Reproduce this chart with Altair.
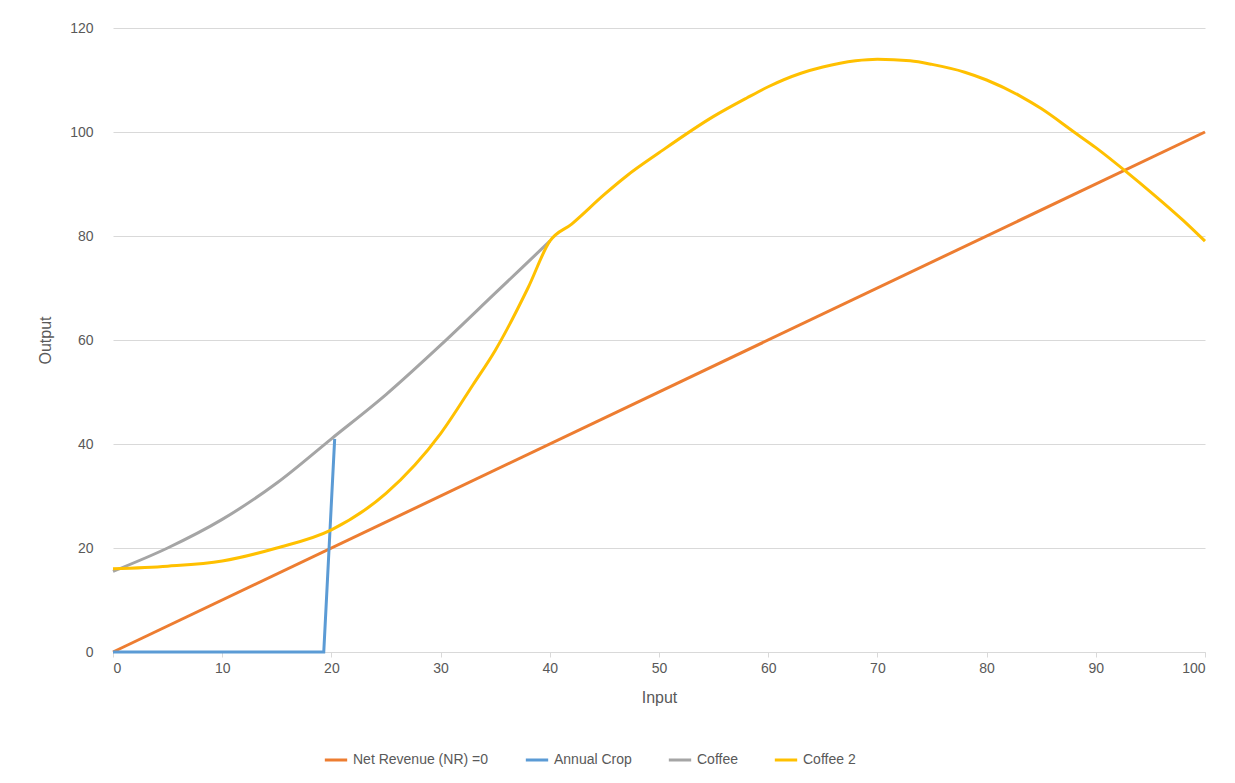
import altair as alt
import pandas as pd

nr_x = [0, 100]
nr_y = [0, 100]

crop_x = [0, 19.3, 20.3]
crop_y = [0, 0, 41]

coffee_x = [0, 5, 10, 15, 20, 25, 30, 35, 40]
coffee_y = [15.5, 20, 25.5, 32.5, 41, 49.5, 59, 69, 79]

coffee2_x = [0, 5, 10, 15, 20, 25, 30, 33, 35, 38, 40, 42, 45, 47, 50, 55, 58, 60, 63, 65, 68, 70,
             73, 75, 78, 80, 83, 85, 88, 90, 93, 95, 98, 100]
coffee2_y = [16, 16.5, 17.5, 20, 23.5, 30.5, 42, 51.5, 58, 70, 79, 82.3, 88, 91.5, 96, 103, 106.5, 108.7,
             111.3, 112.5, 113.7, 114, 113.7, 113, 111.5, 110, 107, 104.5, 100, 97, 92, 88.5, 83, 79]

names = ["Net Revenue (NR) =0", "Annual Crop", "Coffee", "Coffee 2"]
colors = ["#ED7D31", "#5B9BD5", "#A5A5A5", "#FFC000"]

rows = []
for i, (xs, ys) in enumerate([(nr_x, nr_y), (crop_x, crop_y), (coffee_x, coffee_y), (coffee2_x, coffee2_y)]):
    for k, (x, y) in enumerate(zip(xs, ys)):
        rows.append({"series": names[i], "order": i, "k": k, "Input": x, "Output": y})
df = pd.DataFrame(rows)

font = "Liberation Sans"
base = alt.Chart(df).encode(
    x=alt.X("Input:Q", scale=alt.Scale(domain=[0, 100], nice=False),
            axis=alt.Axis(values=list(range(0, 101, 10)), grid=False, domainColor="#D9D9D9",
                          tickColor="#D9D9D9", tickSize=5, labelPadding=4, titlePadding=14)),
    y=alt.Y("Output:Q", scale=alt.Scale(domain=[0, 120], nice=False),
            axis=alt.Axis(values=list(range(0, 121, 20)), domain=False, ticks=False,
                          gridColor="#D9D9D9", labelPadding=20, titlePadding=16)),
    color=alt.Color("series:N", scale=alt.Scale(domain=names, range=colors),
                    legend=alt.Legend(title=None, orient="none", direction="horizontal",
                                      legendX=210, legendY=719, symbolType="stroke",
                                      symbolStrokeWidth=3, symbolSize=500,
                                      columnPadding=30, labelFontSize=14, labelColor="#595959")),
    detail="order:O",
    order="k:Q",
)

straight = base.transform_filter(alt.datum.order <= 1).mark_line(strokeWidth=3)
curves = base.transform_filter(alt.datum.order >= 2).mark_line(strokeWidth=3, interpolate="monotone")

chart = alt.layer(straight, curves).properties(
    width=1092, height=624,
    autosize=alt.AutoSizeParams(type="none"),
    padding={"left": 105, "top": 20, "right": 22, "bottom": 120},
).configure_axis(
    labelFont=font, titleFont=font, labelFontSize=14, titleFontSize=16,
    labelColor="#595959", titleColor="#595959", titleFontWeight="normal",
).configure_legend(labelFont=font).configure_view(stroke=None)

chart.save("out.html", embed_options={"renderer": "svg", "actions": False})
